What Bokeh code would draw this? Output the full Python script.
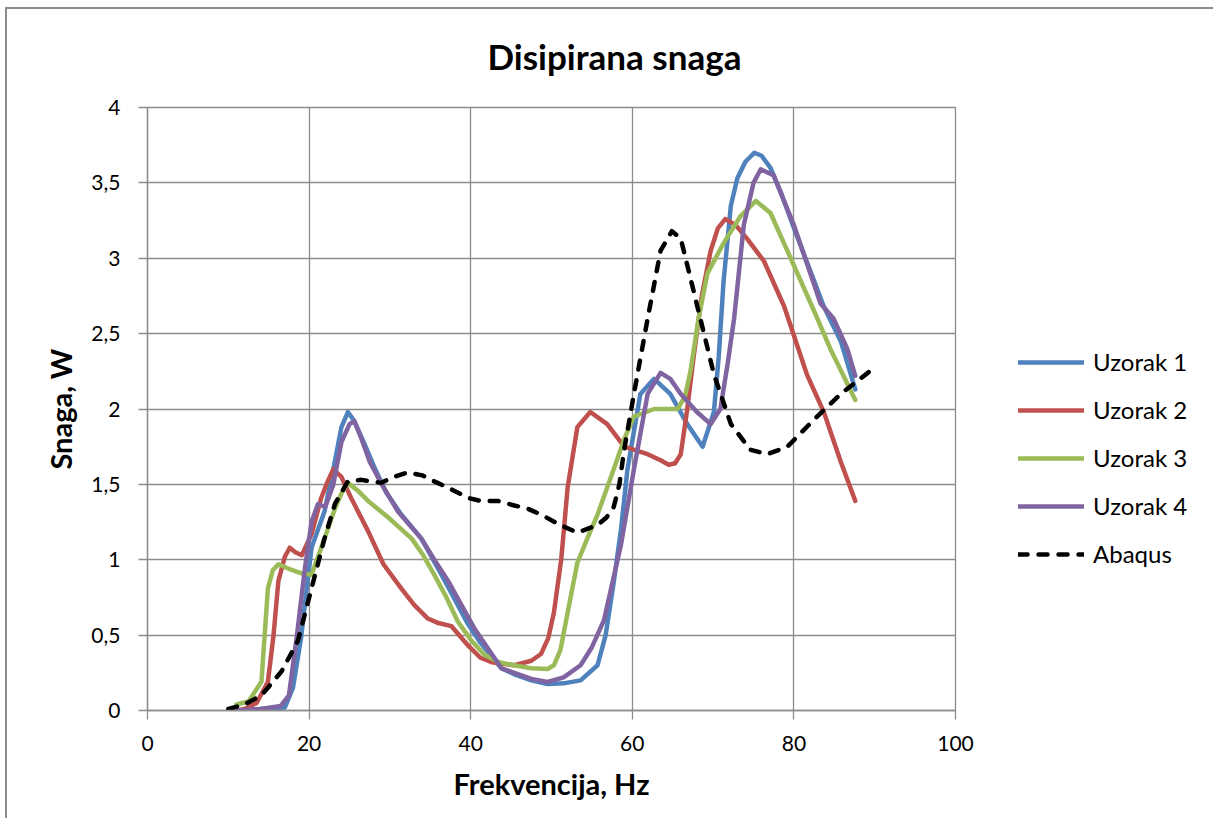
from bokeh.plotting import figure
from bokeh.models import Range1d, Legend, LegendItem, FixedTicker
from bokeh.embed import file_html
from bokeh.resources import INLINE

# ---- data ----
u1_x = [11, 14, 17, 18, 19, 20.3, 21.9, 23, 24, 24.8, 25.6, 27, 28.1, 29.5, 31.4, 33.9, 36.4, 39.7, 41.2, 43.8,
        45.4, 47.5, 49.5, 51.5, 53.6, 55.7, 56.7, 57.7, 58.6, 59.4, 60.2, 61, 62.7, 64.7, 66.8, 68.7, 70.1,
        70.7, 71.3, 72.2, 73, 74, 75.1, 76, 77.1, 78.5, 80, 82.5, 83.7, 85.8, 87.6]
u1_y = [0.0, 0.01, 0.02, 0.15, 0.48, 1.08, 1.32, 1.6, 1.88, 1.98, 1.92, 1.75, 1.61, 1.45, 1.3, 1.14, 0.9, 0.57, 0.45, 0.28,
        0.24, 0.2, 0.175, 0.18, 0.2, 0.3, 0.5, 0.85, 1.2, 1.6, 1.85, 2.1, 2.2, 2.1, 1.9, 1.75, 1.98,
        2.35, 2.85, 3.35, 3.53, 3.64, 3.7, 3.68, 3.6, 3.42, 3.2, 2.85, 2.68, 2.45, 2.13]

u2_x = [11, 12, 13.5, 14.9, 15.6, 16.2, 17, 17.6, 18.3, 19.1, 20.3, 21.5, 22.3, 23, 24, 25.2, 27.3, 29.2, 31.4, 33,
        34.7, 36, 37.6, 39.7, 41.2, 42.6, 45.4, 47.5, 48.7, 49.6, 50.3, 51.2, 52, 53.2, 54.8, 56.9, 59, 61.9,
        63.5, 64.5, 65.3, 66, 66.8, 67.6, 68.6, 69.7, 70.6, 71.5, 72.8, 74.2, 76.3, 78.8, 81.6, 83.7, 85.8, 87.6]
u2_y = [0.0, 0.01, 0.05, 0.19, 0.5, 0.86, 1.02, 1.08, 1.05, 1.03, 1.17, 1.41, 1.52, 1.6, 1.55, 1.41, 1.19, 0.97, 0.81, 0.7,
        0.61, 0.58, 0.56, 0.43, 0.35, 0.32, 0.3, 0.33, 0.375, 0.48, 0.65, 1.0, 1.48, 1.88, 1.98, 1.9, 1.75, 1.7,
        1.66, 1.63, 1.64, 1.7, 2.0, 2.35, 2.75, 3.05, 3.2, 3.26, 3.22, 3.13, 2.98, 2.68, 2.23, 1.98, 1.65, 1.39]

u3_x = [11, 12.5, 14.1, 14.5, 14.9, 15.5, 16.2, 17.5, 19.05, 20.3, 21.5, 22.3, 23.2, 24, 24.8, 26, 27.3, 29.8, 32.7,
        34, 35.5, 37, 38.4, 40, 41.7, 43.5, 45.4, 47.5, 49.5, 50.3, 51.1, 52, 53.2, 54.5, 55.7, 57.7, 59, 60.2,
        62.7, 65.6, 66.5, 67.2, 68.2, 69.3, 71.3, 73.4, 75.3, 77.1, 79.6, 82.5, 84.5, 87.6]
u3_y = [0.04, 0.06, 0.19, 0.5, 0.81, 0.93, 0.97, 0.94, 0.91, 0.9, 1.08, 1.2, 1.34, 1.44, 1.51, 1.46, 1.39, 1.28, 1.14,
        1.04, 0.9, 0.75, 0.59, 0.47, 0.37, 0.32, 0.3, 0.28, 0.275, 0.3, 0.4, 0.65, 0.98, 1.15, 1.3, 1.6, 1.8, 1.95,
        2.0, 2.0, 2.08, 2.25, 2.6, 2.9, 3.1, 3.28, 3.38, 3.3, 3.0, 2.65, 2.4, 2.06]

u4_x = [11, 14, 16.5, 17.5, 18.5, 19.5, 20.3, 21.1, 22, 23, 24, 25, 25.6, 26.5, 27.5, 29, 31, 33.9, 35.5, 37.2,
        40.5, 43.8, 45.4, 47.5, 49.5, 51.5, 53.6, 55, 56.5, 58.6, 60.2, 61.9, 63.5, 64.7, 66, 68, 69.7, 70.9,
        71.8, 72.6, 73.8, 75, 75.9, 77.5, 80, 83.3, 84.9, 86.6, 87.6]
u4_y = [0.0, 0.01, 0.03, 0.1, 0.5, 0.95, 1.25, 1.37, 1.35, 1.5, 1.78, 1.9, 1.92, 1.8, 1.65, 1.5, 1.32, 1.14, 1.0, 0.86,
        0.54, 0.28, 0.25, 0.21, 0.19, 0.22, 0.3, 0.42, 0.6, 1.1, 1.6, 2.1, 2.24, 2.2, 2.1, 1.98, 1.9, 2.0,
        2.3, 2.6, 3.22, 3.5, 3.59, 3.55, 3.22, 2.7, 2.6, 2.4, 2.22]

ab_x = [10, 12, 14.1, 16.6, 18.6, 20.3, 21.9, 23.2, 24.8, 26.5, 28.9, 30.5, 32.2, 34, 35.5, 37.5, 39.7, 41.2, 43.4,
        45.4, 47, 48.7, 51.1, 53.2, 55.7, 56.8, 57.7, 58.4, 59, 60.2, 61.9, 63.5, 64.9, 66, 67.6, 70.1, 72.2,
        74.6, 76.7, 79.2, 82.5, 85.8, 90.1]
ab_y = [0.01, 0.04, 0.1, 0.26, 0.46, 0.81, 1.14, 1.37, 1.52, 1.53, 1.51, 1.55, 1.58, 1.56, 1.52, 1.47, 1.41, 1.39, 1.39,
        1.36, 1.34, 1.3, 1.23, 1.18, 1.23, 1.28, 1.35, 1.5, 1.73, 2.1, 2.6, 3.05, 3.18, 3.13, 2.78, 2.23, 1.9,
        1.73, 1.7, 1.75, 1.93, 2.1, 2.28]

series_names = ["Uzorak 1", "Uzorak 2", "Uzorak 3", "Uzorak 4", "Abaqus"]
x_ticks = [0, 20, 40, 60, 80, 100]
y_ticks = [0, 0.5, 1, 1.5, 2, 2.5, 3, 3.5, 4]
y_tick_labels = ["0", "0,5", "1", "1,5", "2", "2,5", "3", "3,5", "4"]

FONT = "Lato"
GRID = "#8c8c8c"

p = figure(output_backend="svg", toolbar_location=None,
           frame_width=808, frame_height=603,
           x_range=Range1d(0, 100), y_range=Range1d(0, 4),
           min_border_left=147, min_border_top=107, min_border_bottom=108, min_border_right=240,
           background_fill_color="white", border_fill_alpha=0)
p.styles = {
    "background": ("linear-gradient(#8c8c8c, #8c8c8c) 5px 7px / 2px 100% no-repeat, "
                   "linear-gradient(#8c8c8c, #8c8c8c) 5px 7px / 100% 2px no-repeat, white"),
}

p.title.text = "Disipirana snaga"
p.title.align = "left"
p.title.offset = 340
p.title.standoff = 61
p.title.text_font = FONT
p.title.text_font_size = "35px"
p.title.text_font_style = "bold"
p.title.text_color = "black"

p.outline_line_color = GRID
p.outline_line_width = 1.3

for ax in (p.xaxis[0], p.yaxis[0]):
    ax.axis_line_color = GRID
    ax.axis_line_width = 1.3
    ax.major_tick_line_color = GRID
    ax.major_tick_line_width = 1.3
    ax.major_tick_in = 0
    ax.major_tick_out = 9
    ax.minor_tick_line_color = None
    ax.major_label_text_font = FONT
    ax.major_label_text_font_size = "21px"
    ax.major_label_text_color = "black"
    ax.axis_label_text_font = FONT
    ax.axis_label_text_font_size = "29px"
    ax.axis_label_text_font_style = "bold"
    ax.axis_label_text_color = "black"

p.xaxis.ticker = FixedTicker(ticks=x_ticks)
p.yaxis.ticker = FixedTicker(ticks=y_ticks)
p.yaxis.major_label_overrides = {t: l for t, l in zip(y_ticks, y_tick_labels)}
p.xaxis.axis_label = "Frekvencija, Hz"
p.yaxis.axis_label = "Snaga, W"
p.xaxis.major_label_standoff = 16
p.xaxis.axis_label_standoff = 12
p.yaxis.major_label_standoff = 18
p.yaxis.axis_label_standoff = 10

p.xgrid.ticker = FixedTicker(ticks=x_ticks)
p.ygrid.ticker = FixedTicker(ticks=y_ticks)
p.xgrid.grid_line_color = GRID
p.ygrid.grid_line_color = GRID
p.xgrid.grid_line_width = 1.3
p.ygrid.grid_line_width = 1.3

colors = ["#4F81BD", "#C0504D", "#9BBB59", "#8064A2", "black"]
xs = [u1_x, u2_x, u3_x, u4_x, ab_x]
ys = [u1_y, u2_y, u3_y, u4_y, ab_y]

items = []
for name, c, x, y in zip(series_names, colors, xs, ys):
    if name == "Abaqus":
        r = p.line(x, y, line_color=c, line_width=4.5, line_dash="9 11", line_join="round", line_cap="round")
    else:
        r = p.line(x, y, line_color=c, line_width=4.5, line_join="round", line_cap="round")
    items.append(LegendItem(label=name, renderers=[r]))

legend = Legend(items=items, location=(63, 142), glyph_width=66, glyph_height=20,
                label_height=20, spacing=19, padding=10, label_standoff=9,
                label_text_font=FONT, label_text_font_size="24px", label_text_color="black",
                border_line_color=None, background_fill_alpha=0)
p.add_layout(legend, "right")

open("out.html", "w").write(file_html(p, INLINE))
